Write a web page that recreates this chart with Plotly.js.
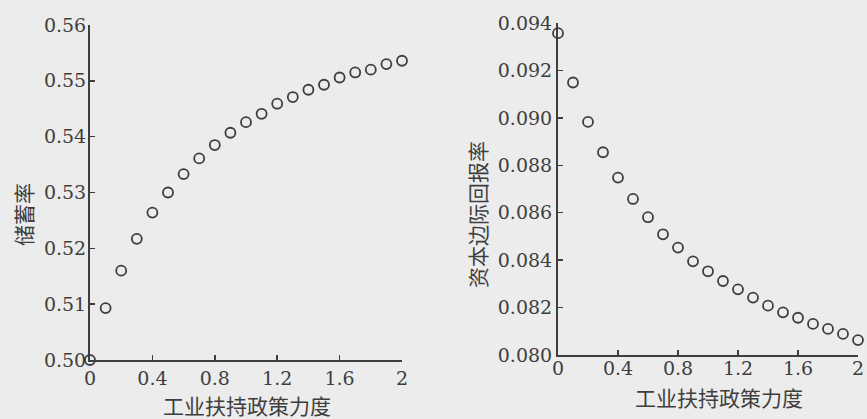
<!DOCTYPE html>
<html>
<head>
<meta charset="utf-8">
<script src="https://cdn.plot.ly/plotly-3.0.1.min.js"></script>
<style>html,body{margin:0;padding:0;background:#ececec;}#chart{width:867px;height:419px;}</style>
</head>
<body>
<div id="chart"></div>
<script>
// Data
const policyStrength = [0, 0.1, 0.2, 0.3, 0.4, 0.5, 0.6, 0.7, 0.8, 0.9, 1.0, 1.1, 1.2, 1.3, 1.4, 1.5, 1.6, 1.7, 1.8, 1.9, 2.0];
const savingRate = [0.5000, 0.5093, 0.5160, 0.5217, 0.5264, 0.5300, 0.5333, 0.5361, 0.5385, 0.5407, 0.5426, 0.5441, 0.5459, 0.5471, 0.5484, 0.5493, 0.5506, 0.5515, 0.5520, 0.5530, 0.5536];
const capitalReturn = [0.09357, 0.09149, 0.08983, 0.08855, 0.08748, 0.08658, 0.08581, 0.08509, 0.08453, 0.08395, 0.08353, 0.08312, 0.08277, 0.08242, 0.08208, 0.08180, 0.08157, 0.08131, 0.08110, 0.08089, 0.08063];
const xTickVals = [0, 0.4, 0.8, 1.2, 1.6, 2];
const xTickText = ["0", "0.4", "0.8", "1.2", "1.6", "2"];
const xTitle = "工业扶持政策力度";
const yTitleLeft = "储蓄率";
const yTitleRight = "资本边际回报率";

const ink = "#3e3e3e";
const numFont = {family: "DejaVu Serif, serif", size: 19, color: ink};
const cjkFont = {family: "Noto Sans CJK SC, sans-serif", size: 21, color: ink};
const W = 867, H = 419;

const marker = {symbol: "circle-open", size: 10, color: ink, line: {width: 1.8, color: ink}};

const traces = [
  {x: policyStrength, y: savingRate, type: "scatter", mode: "markers", marker: marker, xaxis: "x", yaxis: "y", cliponaxis: false, hoverinfo: "x+y"},
  {x: policyStrength, y: capitalReturn, type: "scatter", mode: "markers", marker: marker, xaxis: "x2", yaxis: "y2", cliponaxis: false, hoverinfo: "x+y"}
];

function axisBase() {
  return {
    showline: true, linecolor: ink, linewidth: 2,
    ticks: "inside", ticklen: 5, tickwidth: 1.5, tickcolor: ink,
    showgrid: false, zeroline: false, mirror: false,
    tickfont: numFont
  };
}

const layout = {
  width: W, height: H,
  margin: {l: 0, r: 0, t: 0, b: 0},
  paper_bgcolor: "#ececec",
  plot_bgcolor: "rgba(0,0,0,0)",
  showlegend: false,
  xaxis: Object.assign(axisBase(), {domain: [90/W, 402/W], range: [0, 2], tickvals: xTickVals, ticktext: xTickText, anchor: "y", ticklabelstandoff: 0}),
  yaxis: Object.assign(axisBase(), {domain: [1 - 360/H, 1 - 25/H], range: [0.50, 0.56], dtick: 0.01, tickformat: ".2f", anchor: "x", ticklabelstandoff: -2}),
  xaxis2: Object.assign(axisBase(), {domain: [558/W, 858/W], range: [0, 2], tickvals: xTickVals, ticktext: xTickText, anchor: "y2", ticklabelstandoff: -5}),
  yaxis2: Object.assign(axisBase(), {domain: [1 - 355/H, 1 - 23/H], range: [0.080, 0.094], dtick: 0.002, tickformat: ".3f", anchor: "x2", ticklabelstandoff: 0}),
  annotations: [
    {text: xTitle, xref: "paper", yref: "paper", x: 247/W, y: 1 - 405/H, showarrow: false, font: cjkFont, xanchor: "center", yanchor: "middle"},
    {text: xTitle, xref: "paper", yref: "paper", x: 719/W, y: 1 - 397/H, showarrow: false, font: cjkFont, xanchor: "center", yanchor: "middle"},
    {text: yTitleLeft, xref: "paper", yref: "paper", x: 23/W, y: 1 - 215/H, showarrow: false, font: cjkFont, textangle: -90, xanchor: "center", yanchor: "middle"},
    {text: yTitleRight, xref: "paper", yref: "paper", x: 477/W, y: 1 - 215/H, showarrow: false, font: cjkFont, textangle: -90, xanchor: "center", yanchor: "middle"}
  ]
};

Plotly.newPlot("chart", traces, layout, {staticPlot: true, displayModeBar: false});
</script>
</body>
</html>
